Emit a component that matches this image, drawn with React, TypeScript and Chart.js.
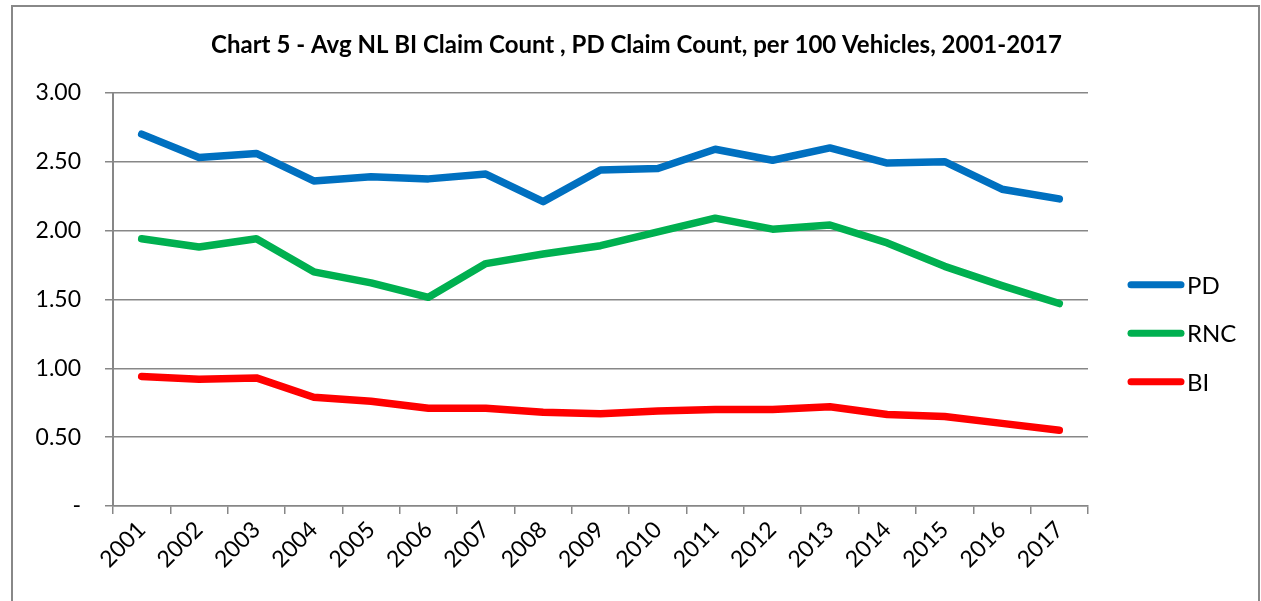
import React, { useEffect, useRef } from "react";
import { Chart, registerables } from "chart.js";

Chart.register(...registerables);

const TITLE = "Chart 5 - Avg NL BI Claim Count , PD Claim Count, per 100 Vehicles, 2001-2017";

const years = [
  "2001", "2002", "2003", "2004", "2005", "2006", "2007", "2008", "2009",
  "2010", "2011", "2012", "2013", "2014", "2015", "2016", "2017",
];

const pdValues = [2.70, 2.53, 2.56, 2.36, 2.39, 2.375, 2.41, 2.21, 2.44, 2.45, 2.59, 2.51, 2.60, 2.49, 2.50, 2.30, 2.23];
const rncValues = [1.94, 1.88, 1.94, 1.70, 1.62, 1.515, 1.76, 1.83, 1.89, 1.99, 2.09, 2.01, 2.04, 1.91, 1.74, 1.60, 1.47];
const biValues = [0.94, 0.92, 0.93, 0.79, 0.76, 0.71, 0.71, 0.68, 0.67, 0.69, 0.70, 0.70, 0.72, 0.665, 0.65, 0.60, 0.55];

const yTicks = [0, 0.5, 1, 1.5, 2, 2.5, 3];

const seriesNames = ["PD", "RNC", "BI"];
const seriesColors = ["#0070C0", "#00B050", "#FF0000"];

const FONT = "Lato";
const GRID = "#878787";

const legendPlugin = {
  id: "sideLegend",
  afterDraw(chart: any) {
    const { ctx, chartArea } = chart;
    const x0 = chartArea.right + 43;
    const lineLen = 50;
    const yStart = chartArea.top + 192;
    const gap = 48.5;
    ctx.save();
    chart.data.datasets.forEach((ds: any, i: number) => {
      const y = yStart + i * gap;
      ctx.beginPath();
      ctx.strokeStyle = ds.borderColor;
      ctx.lineWidth = 7;
      ctx.lineCap = "round";
      ctx.moveTo(x0, y);
      ctx.lineTo(x0 + lineLen, y);
      ctx.stroke();
      ctx.fillStyle = "#000";
      ctx.font = `24px ${FONT}`;
      ctx.textBaseline = "middle";
      ctx.textAlign = "left";
      ctx.fillText(ds.label, x0 + lineLen + 6, y + 1);
    });
    ctx.restore();
  },
};

export default function App() {
  const ref = useRef<HTMLCanvasElement | null>(null);

  useEffect(() => {
    if (!ref.current) return;
    const values = [pdValues, rncValues, biValues];
    const chart = new Chart(ref.current, {
      type: "line",
      data: {
        labels: years,
        datasets: seriesNames.map((name, i) => ({
          label: name,
          data: values[i],
          borderColor: seriesColors[i],
          backgroundColor: seriesColors[i],
          borderWidth: 7.5,
          pointRadius: 0,
          pointHoverRadius: 0,
          tension: 0,
          fill: false,
          borderCapStyle: "round",
          borderJoinStyle: "round",
        })),
      },
      options: {
        animation: false,
        responsive: false,
        devicePixelRatio: 1,
        layout: { padding: { left: 12, right: 0, top: 0, bottom: 0 } },
        plugins: {
          legend: { display: false },
          tooltip: { enabled: false },
          title: {
            display: true,
            text: TITLE,
            color: "#000",
            font: { family: FONT, size: 24, weight: "bold" },
            padding: { top: 31, bottom: 33 },
          },
        },
        scales: {
          x: {
            type: "category",
            offset: true,
            grid: {
              display: true,
              drawOnChartArea: false,
              drawTicks: true,
              tickLength: 8,
              color: GRID,
              lineWidth: 1.5,
              offset: true,
            },
            border: { display: true, color: GRID, width: 1.5 },
            ticks: {
              minRotation: 45,
              maxRotation: 45,
              autoSkip: false,
              color: "#000",
              font: { family: FONT, size: 23 },
              padding: 2,
            },
            afterFit: (s: any) => {
              s.height = 95;
            },
          },
          y: {
            type: "linear",
            min: 0,
            max: 3,
            afterBuildTicks: (s: any) => {
              s.ticks = yTicks.map((v) => ({ value: v }));
            },
            ticks: {
              color: "#000",
              font: { family: FONT, size: 23 },
              padding: 24,
              callback: (v: any) => (Number(v) === 0 ? "-" : Number(v).toFixed(2)),
            },
            grid: { color: GRID, lineWidth: 1.5, tickLength: 8, drawTicks: true },
            border: { display: true, color: GRID, width: 2 },
            afterFit: (s: any) => {
              s.width = 101;
            },
          },
          yRight: {
            type: "linear",
            position: "right",
            display: true,
            grid: { display: false, drawTicks: false },
            border: { display: false },
            ticks: { display: false },
            afterFit: (s: any) => {
              s.width = 173;
            },
          },
        },
      },
      plugins: [legendPlugin],
    });
    return () => chart.destroy();
  }, []);

  return (
    <div style={{ position: "fixed", left: 0, top: 0, width: 1261, height: 601, background: "#fff", overflow: "hidden" }}>
      <canvas ref={ref} width={1261} height={601} style={{ position: "absolute", left: 0, top: 0, width: 1261, height: 601 }} />
      <div
        style={{
          position: "absolute",
          left: 11,
          top: 5,
          width: 1249,
          height: 620,
          border: "2px solid #888",
          boxSizing: "border-box",
          pointerEvents: "none",
        }}
      />
    </div>
  );
}
